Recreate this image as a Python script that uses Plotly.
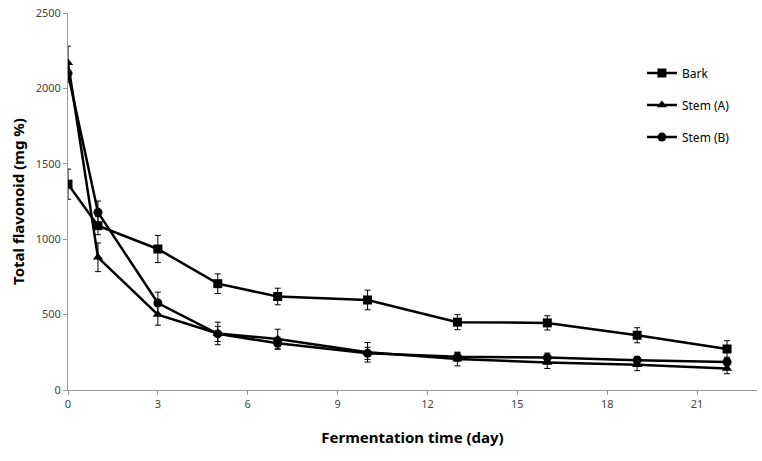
import plotly.graph_objects as go

days = [0, 1, 3, 5, 7, 10, 13, 16, 19, 22]
bark = [1365, 1090, 935, 705, 620, 597, 450, 445, 363, 272]
bark_err = [100, 60, 90, 65, 55, 65, 50, 47, 50, 55]
stem_a = [2170, 880, 500, 375, 338, 250, 205, 183, 168, 143]
stem_a_err = [110, 95, 70, 75, 65, 65, 45, 40, 40, 35]
stem_b = [2100, 1178, 577, 372, 310, 243, 220, 215, 198, 186]
stem_b_err = [60, 75, 72, 50, 40, 40, 30, 30, 25, 25]
x_ticks = [0, 3, 6, 9, 12, 15, 18, 21]
y_ticks = [0, 500, 1000, 1500, 2000, 2500]

series = [
    ("Bark", bark, bark_err, "square"),
    ("Stem (A)", stem_a, stem_a_err, "triangle-up"),
    ("Stem (B)", stem_b, stem_b_err, "circle"),
]

fig = go.Figure()
for i, (name, vals, errs, sym) in enumerate(series):
    fig.add_trace(go.Scatter(
        x=days, y=vals, name=name, mode="lines+markers",
        line=dict(color="black", width=2.5),
        marker=dict(symbol=sym, size=9, color="black"),
        error_y=dict(type="data", array=errs, color="black", thickness=1, width=3),
        legendgroup=f"g{i}",
    ))

fig.update_layout(
    width=762, height=461,
    margin=dict(l=68, r=5, t=13, b=71),
    plot_bgcolor="white", paper_bgcolor="white",
    font=dict(family="Noto Sans", color="black"),
    showlegend=True,
    legend=dict(x=0.833, y=0.879, xanchor="left", yanchor="top",
                font=dict(size=12, family="Noto Sans", color="black"),
                tracegroupgap=13, bgcolor="rgba(0,0,0,0)", itemwidth=30),
    xaxis=dict(range=[0, 23], tickvals=x_ticks, showgrid=False, zeroline=False,
               showline=True, linecolor="#999999", linewidth=1,
               ticks="outside", ticklen=4, tickcolor="#999999",
               tickfont=dict(size=11, color="#444444"),
               title=dict(text="<b>Fermentation time (day)</b>", font=dict(size=15), standoff=22)),
    yaxis=dict(range=[0, 2500], tickvals=y_ticks, showgrid=False, zeroline=False,
               showline=True, linecolor="#999999", linewidth=1,
               ticks="outside", ticklen=4, tickcolor="#999999",
               tickfont=dict(size=11, color="#444444"),
               title=dict(text="<b>Total flavonoid (mg %)</b>", font=dict(size=15), standoff=7)),
)

fig.write_html("out.html", config={"displayModeBar": False},
               post_script="document.body.style.margin='0px';")
